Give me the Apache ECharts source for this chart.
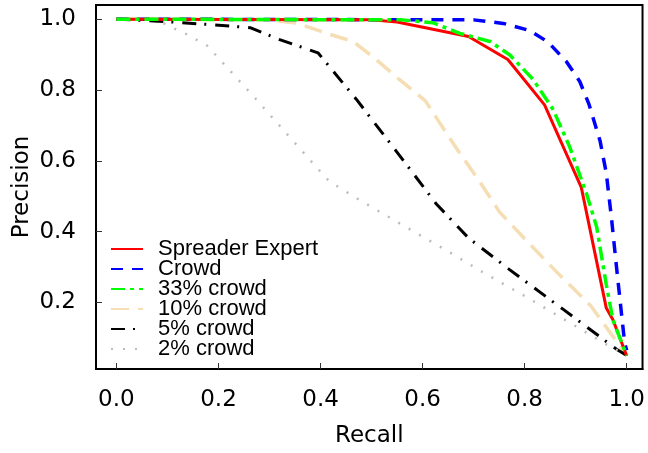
<!DOCTYPE html>
<html lang="en">
<head>
    <meta charset="UTF-8">
    <style>
    html,
    body {
        height: 100%;
        margin: 0;
        background: #fff;
    }
  </style>
</head>
<body>
<div id="chart" style="width:648px;height:453px;"></div>
<script src="https://cdn.jsdelivr.net/npm/echarts@6.0.0/dist/echarts.min.js"></script>
<script>
    // values
    var xTicks = [0, 0.2, 0.4, 0.6, 0.8, 1.0];
    var yTicks = [0.2, 0.4, 0.6, 0.8, 1.0];

    var expertRecall    = [0, 0.50, 0.55, 0.69, 0.767, 0.839, 0.911, 0.960, 0.973, 1.0];
    var expertPrecision = [1.0, 0.998, 0.992, 0.951, 0.886, 0.758, 0.525, 0.184, 0.151, 0.049];

    var crowdRecall    = [0, 0.70, 0.758, 0.810, 0.846, 0.882, 0.908, 0.926, 0.948, 0.960, 0.970, 0.980, 0.990, 0.996, 1.0];
    var crowdPrecision = [1.0, 0.998, 0.988, 0.968, 0.935, 0.880, 0.824, 0.760, 0.655, 0.565, 0.440, 0.300, 0.165, 0.085, 0.065];

    var c33Recall    = [0, 0.56, 0.62, 0.673, 0.732, 0.771, 0.817, 0.856, 0.888, 0.921, 0.941, 0.960, 0.973, 1.0];
    var c33Precision = [1.0, 0.998, 0.99, 0.960, 0.937, 0.899, 0.829, 0.744, 0.640, 0.508, 0.414, 0.250, 0.150, 0.05];

    var c10Recall    = [0, 0.30, 0.353, 0.412, 0.464, 0.51, 0.555, 0.605, 0.666, 0.712, 0.751, 0.80, 0.862, 0.93, 1.0];
    var c10Precision = [1.0, 0.998, 0.989, 0.960, 0.937, 0.885, 0.829, 0.770, 0.636, 0.541, 0.455, 0.380, 0.287, 0.19, 0.05];

    var c5Recall    = [0, 0.10, 0.17, 0.262, 0.32, 0.395, 0.47, 0.549, 0.627, 0.69, 0.771, 0.875, 0.98, 1.0];
    var c5Precision = [1.0, 0.993, 0.986, 0.976, 0.942, 0.905, 0.774, 0.626, 0.478, 0.382, 0.292, 0.181, 0.068, 0.05];

    var c2Recall    = [0, 0.08, 0.105, 0.137, 0.178, 0.209, 0.275, 0.353, 0.417, 0.477, 0.559, 0.642, 0.723, 0.805, 0.887, 0.97, 1.0];
    var c2Precision = [1.0, 0.998, 0.979, 0.958, 0.925, 0.876, 0.772, 0.645, 0.542, 0.489, 0.420, 0.351, 0.281, 0.214, 0.144, 0.073, 0.052];

    function pairs(xs, ys) {
        var out = [];
        for (var i = 0; i < xs.length; i++) {
            out.push([xs[i], ys[i]]);
        }
        return out;
    }

    function line(name, xs, ys, color, type, width, z) {
        return {
            name: name,
            type: 'line',
            data: pairs(xs, ys),
            symbol: 'none',
            z: z,
            lineStyle: { color: color, width: width, type: type },
            itemStyle: { color: color }
        };
    }

    var font = '"Liberation Sans", Arial, sans-serif';
    var axisFont = '"DejaVu Sans", sans-serif';

    var myChart = echarts.init(document.getElementById('chart'));
    myChart.setOption({
        animation: false,
        backgroundColor: '#fff',
        grid: {
            left: 96, right: 5, top: 5, bottom: 84,
            show: true, borderColor: '#000', borderWidth: 2
        },
        legend: {
            orient: 'vertical',
            left: 110,
            top: 238,
            padding: 0,
            itemGap: -2,
            itemWidth: 32,
            itemHeight: 10,
            itemStyle: { opacity: 0 },
            textStyle: {
                fontFamily: font, fontSize: 22, color: '#000',
                lineHeight: 20, padding: [0, 0, 0, 10]
            },
            data: ['Spreader Expert', 'Crowd', '33% crowd', '10% crowd', '5% crowd', '2% crowd']
        },
        xAxis: {
            type: 'value',
            min: -0.04,
            max: 1.031,
            name: 'Recall',
            nameLocation: 'middle',
            nameMoveOverlap: false,
            nameGap: 56,
            nameTextStyle: { fontFamily: axisFont, fontSize: 23, color: '#000' },
            splitLine: { show: false },
            axisLine: { onZero: false, lineStyle: { color: '#000', width: 2 } },
            axisTick: {
                inside: true, length: 6, customValues: xTicks,
                lineStyle: { color: '#333', width: 1 }
            },
            axisLabel: {
                customValues: xTicks, margin: 20,
                fontFamily: axisFont, fontSize: 23, color: '#000',
                formatter: function (v) { return v.toFixed(1); }
            }
        },
        yAxis: {
            type: 'value',
            min: 0.012,
            max: 1.04,
            name: 'Precision',
            nameLocation: 'middle',
            nameRotate: 90,
            nameMoveOverlap: false,
            nameGap: 62,
            nameTextStyle: { fontFamily: axisFont, fontSize: 23, color: '#000' },
            splitLine: { show: false },
            axisLine: { onZero: false, lineStyle: { color: '#000', width: 2 } },
            axisTick: {
                inside: true, length: 6, customValues: yTicks,
                lineStyle: { color: '#333', width: 1 }
            },
            axisLabel: {
                customValues: yTicks, margin: 20,
                fontFamily: axisFont, fontSize: 23, color: '#000',
                formatter: function (v) { return v.toFixed(1); }
            }
        },
        series: [
            line('Spreader Expert', expertRecall, expertPrecision, '#ff0000', 'solid', 3, 4),
            line('Crowd', crowdRecall, crowdPrecision, '#0000ff', [12, 9], 3.5, 3),
            line('33% crowd', c33Recall, c33Precision, '#00ff00', [14, 5, 4, 5], 3.5, 5),
            line('10% crowd', c10Recall, c10Precision, '#f5deb3', [18, 9], 3.5, 2),
            line('5% crowd', c5Recall, c5Precision, '#000000', [14, 8, 2, 9], 3, 2),
            line('2% crowd', c2Recall, c2Precision, '#bbbbbb', [2, 10], 2.5, 2)
        ]
    });
</script>
</body>
</html>
